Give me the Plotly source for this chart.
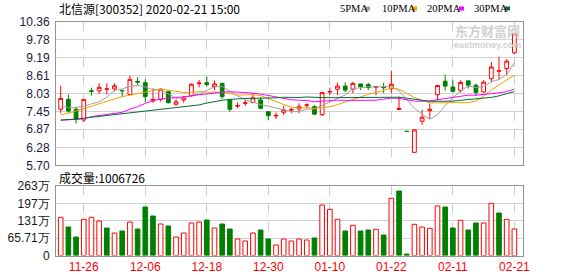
import plotly.graph_objects as go
import numpy as np

# ---------------- data ----------------
dates = ["2019-11-21", "2019-11-22", "2019-11-25", "2019-11-26", "2019-11-27", "2019-11-28", "2019-11-29",
         "2019-12-02", "2019-12-03", "2019-12-04", "2019-12-05", "2019-12-06", "2019-12-09", "2019-12-10",
         "2019-12-11", "2019-12-12", "2019-12-13", "2019-12-16", "2019-12-17", "2019-12-18", "2019-12-19",
         "2019-12-20", "2019-12-23", "2019-12-24", "2019-12-25", "2019-12-26", "2019-12-27", "2019-12-30",
         "2019-12-31", "2020-01-02", "2020-01-03", "2020-01-06", "2020-01-07", "2020-01-08", "2020-01-09",
         "2020-01-10", "2020-01-13", "2020-01-14", "2020-01-15", "2020-01-16", "2020-01-17", "2020-01-20",
         "2020-01-21", "2020-01-22", "2020-01-23", "2020-02-03", "2020-02-04", "2020-02-05", "2020-02-06",
         "2020-02-07", "2020-02-10", "2020-02-11", "2020-02-12", "2020-02-13", "2020-02-14", "2020-02-17",
         "2020-02-18", "2020-02-19", "2020-02-20", "2020-02-21"]

opens = [7.52, 7.84, 7.52, 7.17, 8.12, 8.12, 8.17, 8.18, 8.13, 8.00,
         8.42, 8.38, 7.79, 7.84, 8.09, 7.68, 7.82, 7.96, 8.35, 8.38,
         8.25, 8.36, 7.82, 7.62, 7.71, 7.74, 7.82, 7.44, 7.30, 7.42,
         7.49, 7.53, 7.65, 7.60, 7.34, 8.08, 8.17, 8.27, 8.17, 8.34,
         8.32, 8.23, 8.24, 8.18, 7.51, 6.80, 6.12, 7.13, 7.47, 7.99,
         8.43, 8.24, 8.13, 8.44, 8.30, 8.08, 8.51, 8.75, 8.84, 9.35]
highs = [8.28, 8.00, 7.58, 7.85, 8.22, 8.36, 8.36, 8.36, 8.14, 8.61,
         8.56, 8.49, 8.20, 8.20, 8.12, 7.85, 7.96, 8.36, 8.47, 8.58,
         8.45, 8.38, 7.84, 7.74, 7.82, 8.04, 7.91, 7.44, 7.41, 7.63,
         7.58, 7.71, 7.71, 7.65, 8.07, 8.22, 8.38, 8.39, 8.41, 8.34,
         8.38, 8.26, 8.38, 8.77, 7.93, 6.80, 6.85, 7.50, 7.71, 8.29,
         8.64, 8.46, 8.46, 8.44, 8.35, 8.46, 9.05, 9.22, 9.14, 9.98]
lows = [7.39, 7.41, 7.06, 7.10, 7.96, 8.01, 8.00, 8.10, 7.91, 7.98,
        8.31, 7.76, 7.73, 7.76, 7.71, 7.63, 7.73, 7.93, 8.23, 8.25,
        8.14, 7.85, 7.44, 7.55, 7.63, 7.71, 7.52, 7.17, 7.20, 7.33,
        7.39, 7.39, 7.55, 7.33, 7.30, 7.98, 7.98, 8.07, 8.04, 8.14,
        8.14, 7.98, 8.04, 8.04, 7.50, 6.80, 6.12, 7.01, 7.20, 7.81,
        8.13, 8.06, 8.06, 8.19, 7.95, 8.06, 8.40, 8.47, 8.62, 9.30]
closes = [7.87, 7.46, 7.19, 7.84, 8.10, 8.23, 8.18, 8.28, 8.12, 8.49,
          8.40, 7.93, 7.84, 8.17, 7.73, 7.76, 7.89, 8.33, 8.37, 8.32,
          8.34, 7.93, 7.52, 7.64, 7.73, 7.89, 7.55, 7.31, 7.32, 7.50,
          7.51, 7.60, 7.66, 7.36, 8.06, 8.09, 8.27, 8.14, 8.36, 8.25,
          8.22, 8.25, 8.22, 8.33, 7.55, 6.80, 6.85, 7.26, 7.52, 8.29,
          8.27, 8.10, 8.39, 8.30, 8.06, 8.40, 8.89, 8.77, 9.08, 9.98]
# volume in 万 (10k shares)
volumes = [144.9, 108.1, 70.2, 137.3, 144.9, 130.9, 104.3, 85.3, 92.9, 127.1,
           100.5, 184.0, 149.8, 119.5, 111.9, 70.2, 85.3, 123.3, 127.1, 134.7,
           104.3, 119.5, 100.5, 62.6, 55.0, 85.3, 96.7, 62.6, 39.8, 62.6,
           55.0, 62.6, 58.8, 66.4, 191.5, 175.2, 137.3, 92.9, 114.5, 92.9,
           96.7, 99.4, 77.8, 217.0, 244.6, 5.7, 118.3, 108.1, 103.2, 187.8,
           184.0, 104.3, 133.5, 96.7, 123.3, 123.3, 198.0, 161.2, 137.3, 100.6726]

ma5_head = [7.62, 7.58, 7.58, 7.62]
ma10_head = [7.33, 7.39, 7.46, 7.54, 7.62, 7.71, 7.79, 7.85, 7.93]
ma20_head = [7.16, 7.17, 7.19, 7.21, 7.28, 7.31, 7.34, 7.37, 7.42, 7.52,
             7.60, 7.71, 7.80, 7.85, 7.87, 7.89, 7.93, 7.95, 7.99]
ma30_head = [7.17, 7.18, 7.20, 7.23, 7.26, 7.28, 7.30, 7.33, 7.36, 7.39,
             7.42, 7.47, 7.49, 7.52, 7.54, 7.57, 7.60, 7.63, 7.66, 7.72,
             7.77, 7.81, 7.84, 7.86, 7.87, 7.87, 7.87, 7.88, 7.89]

tick_labels = ["11-26", "12-06", "12-18", "12-30", "01-10", "01-22", "02-11", "02-21"]
price_ticks = [5.70, 6.28, 6.87, 7.45, 8.03, 8.61, 9.19, 9.78, 10.36]
price_tick_text = ["5.70", "6.28", "6.87", "7.45", "8.03", "8.61", "9.19", "9.78", "10.36"]
vol_ticks = [0, 65.71, 131.42, 197.13, 262.84]
vol_tick_text = ["0", "65.71万", "131万", "197万", "263万"]

title_text = "北信源[300352] 2020-02-21 15:00"
vol_title = "成交量:1006726"
ma_names = ["5PMA", "10PMA", "20PMA", "30PMA"]

# ---------------- derived ----------------
N = len(closes)
xs = list(range(N))
tick_pos = [[d[5:] for d in dates].index(t) for t in tick_labels]


def moving_avg(n, head):
    out = list(head)
    for i in range(len(head), N):
        out.append(float(np.mean(closes[i - n + 1:i + 1])))
    return out


mas = [moving_avg(5, ma5_head), moving_avg(10, ma10_head),
       moving_avg(20, ma20_head), moving_avg(30, ma30_head)]
ma_colors = ["#a0a0a0", "#f0a000", "#ff00ff", "#006f2e"]

RED = "#ff0000"
GREEN = "#008000"
vol_up = [closes[0] >= opens[0]] + [closes[i] >= closes[i - 1] for i in range(1, N)]
vol_fill = ["#ffffff" if u else GREEN for u in vol_up]
vol_line = [RED if u else GREEN for u in vol_up]

# ---------------- figure ----------------
W, H = 578, 276
L, R = 56, 55
PW = W - L - R


def px(x):
    return (x - L) / PW


def py(y):
    return 1 - y / H


fig = go.Figure()

for m, c in zip(mas, ma_colors):
    fig.add_trace(go.Scatter(x=xs, y=m, mode="lines", line=dict(color=c, width=1),
                             hoverinfo="skip", xaxis="x", yaxis="y"))

fig.add_trace(go.Candlestick(
    x=xs, open=opens, high=highs, low=lows, close=closes,
    increasing=dict(line=dict(color=RED, width=1), fillcolor="#ffffff"),
    decreasing=dict(line=dict(color=GREEN, width=1), fillcolor=GREEN),
    whiskerwidth=0, xaxis="x", yaxis="y", hoverinfo="skip"))

fig.add_trace(go.Bar(x=xs, y=volumes, width=0.6,
                     marker=dict(color=vol_fill, line=dict(color=vol_line, width=1)),
                     xaxis="x2", yaxis="y2", hoverinfo="skip"))

xr = [-0.61, N + 0.12]
common_x = dict(range=xr, tickmode="array", tickvals=tick_pos, showgrid=True,
                gridcolor="#cccccc", griddash="dash", gridwidth=1, zeroline=False,
                showline=True, linecolor="#959595", linewidth=1, mirror=True,
                ticks="", fixedrange=True)

fig.update_layout(
    width=W, height=H, margin=dict(l=L, r=R, t=0, b=0, autoexpand=False),
    paper_bgcolor="#ffffff", plot_bgcolor="#ffffff", showlegend=False,
    xaxis=dict(**common_x, anchor="y", showticklabels=False, rangeslider=dict(visible=False)),
    xaxis2=dict(**common_x, anchor="y2", ticktext=tick_labels, showticklabels=True,
                tickfont=dict(family="Liberation Sans, Arial", size=12, color=RED)),
    yaxis=dict(domain=[py(165.3), py(21.7)], range=[5.70, 10.36], tickmode="array",
               tickvals=price_ticks, ticktext=price_tick_text, showgrid=True,
               gridcolor="#d2d2d2", gridwidth=1, zeroline=False, showline=True,
               linecolor="#959595", mirror=True, ticks="", ticklabelstandoff=3,
               tickfont=dict(family="Liberation Sans, Arial", size=12, color="#1a1a40"),
               anchor="x", fixedrange=True),
    yaxis2=dict(domain=[py(255.5), py(186.2)], range=[0, 262.84], tickmode="array",
                tickvals=vol_ticks, ticktext=vol_tick_text, showgrid=True,
                gridcolor="#d2d2d2", gridwidth=1, zeroline=False, showline=True,
                linecolor="#959595", mirror=True, ticks="", ticklabelstandoff=3,
                tickfont=dict(family="Liberation Sans, Arial", size=12, color="#1a1a1a"),
                anchor="x2", fixedrange=True),
    bargap=0.4,
)

ann = []
ann.append(dict(x=px(57), y=py(8.5), xref="paper", yref="paper", text=title_text,
                showarrow=False, xanchor="left", yanchor="middle",
                font=dict(family="Noto Sans CJK SC", size=12, color="#000000")))
ann.append(dict(x=px(57), y=py(177), xref="paper", yref="paper", text=vol_title,
                showarrow=False, xanchor="left", yanchor="middle",
                font=dict(family="Noto Sans CJK SC", size=12, color="#000000")))

# legend text + coloured squares
leg_x = [338, 380, 425, 472]
sq_x = [365, 412, 459, 505]
shapes = []
for name, lx, sx, c in zip(ma_names, leg_x, sq_x, ma_colors):
    ann.append(dict(x=px(lx), y=py(8.5), xref="paper", yref="paper", text=name,
                    showarrow=False, xanchor="left", yanchor="middle",
                    font=dict(family="Liberation Serif, Times New Roman", size=10.5, color="#000000")))
    shapes.append(dict(type="rect", xref="paper", yref="paper",
                       x0=px(sx), x1=px(sx + 5), y0=py(10.5), y1=py(6.5),
                       fillcolor=c, line=dict(width=0)))

# watermark
ann.append(dict(x=px(487), y=py(30.5), xref="paper", yref="paper", text="<b>东方财富网</b>",
                showarrow=False, xanchor="center", yanchor="middle",
                font=dict(family="Noto Sans CJK SC", size=13, color="#d0d0d0")))
ann.append(dict(x=px(487), y=py(45), xref="paper", yref="paper", text="<b>eastmoney.com</b>",
                showarrow=False, xanchor="center", yanchor="middle",
                font=dict(family="Liberation Sans, Arial", size=9, color="#d0d0d0")))

fig.update_layout(annotations=ann, shapes=shapes)

fig.write_html("out.html", config={"displayModeBar": False})
